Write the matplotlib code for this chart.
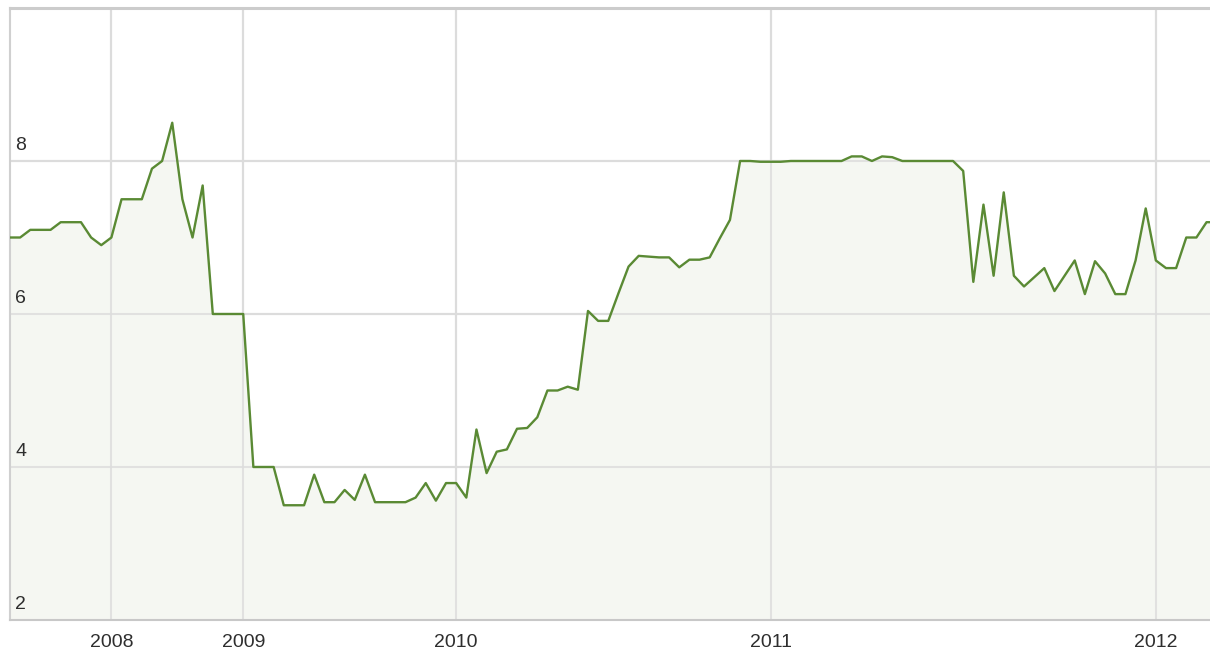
import matplotlib
matplotlib.use("Agg")
import matplotlib.pyplot as plt
import numpy as np

# ---- data ----
rates = [
    7.0, 7.0, 7.1, 7.1, 7.1, 7.2, 7.2, 7.2, 7.0, 6.9,
    7.0, 7.5, 7.5, 7.5, 7.9, 8.0, 8.5, 7.5, 7.0, 7.68,
    6.0, 6.0, 6.0, 6.0, 4.0, 4.0, 4.0, 3.5, 3.5, 3.5,
    3.9, 3.54, 3.54, 3.7, 3.57, 3.9, 3.54, 3.54, 3.54, 3.54,
    3.6, 3.79, 3.56, 3.79, 3.79, 3.6, 4.49, 3.92, 4.2, 4.23,
    4.5, 4.51, 4.65, 5.0, 5.0, 5.05, 5.01, 6.04, 5.91, 5.91,
    6.27, 6.62, 6.76, 6.75, 6.74, 6.74, 6.61, 6.71, 6.71, 6.74,
    6.99, 7.23, 8.0, 8.0, 7.99, 7.99, 7.99, 8.0, 8.0, 8.0,
    8.0, 8.0, 8.0, 8.06, 8.06, 8.0, 8.06, 8.05, 8.0, 8.0,
    8.0, 8.0, 8.0, 8.0, 7.87, 6.42, 7.43, 6.5, 7.59, 6.5,
    6.36, 6.48, 6.6, 6.3, 6.5, 6.7, 6.26, 6.69, 6.53, 6.26,
    6.26, 6.7, 7.38, 6.7, 6.6, 6.6, 7.0, 7.0, 7.2, 7.2,
]
year_labels = ["2008", "2009", "2010", "2011", "2012"]
year_index = [10, 23, 44, 75, 113]   # observation index where each year starts
y_ticks = [2, 4, 6, 8]

# ---- figure ----
W, H = 1210, 655
fig = plt.figure(figsize=(W / 100, H / 100), dpi=100)
left, right, top, bottom = 10, 1210, 8, 620
ax = fig.add_axes([left / W, (H - bottom) / H, (right - left) / W, (bottom - top) / H])

x = np.arange(len(rates))
ax.set_xlim(0, 118.34)
ax.set_ylim(2, 10)

grid_c = "#dcdcdc"
for xi in year_index:
    ax.axvline(xi, color=grid_c, lw=1.5, zorder=1)
for yv in y_ticks[1:]:
    ax.axhline(yv, color=grid_c, lw=1.5, zorder=1)

ax.fill_between(x, rates, 2, color="#f5f7f2", zorder=2, lw=0)
ax.plot(x, rates, color="#5a8a34", lw=1.7, zorder=3)

for xi in year_index:
    ax.axvline(xi, color=grid_c, lw=1.5, zorder=2.5, alpha=0.8)
for yv in y_ticks[1:]:
    ax.axhline(yv, color=grid_c, lw=1.5, zorder=2.5, alpha=0.8)

ax.spines["right"].set_visible(False)
ax.spines["left"].set_color("#d0d0d0")
ax.spines["left"].set_linewidth(1.5)
ax.spines["bottom"].set_color("#c8c8c8")
ax.spines["bottom"].set_linewidth(1.5)
ax.spines["top"].set_color("#cccccc")
ax.spines["top"].set_linewidth(2.2)

ax.set_xticks(year_index)
ax.set_xticklabels(year_labels)
ax.tick_params(axis="x", length=0, pad=10, labelsize=14, labelcolor="#2e2e2e")
ax.set_yticks([])
for lab in ax.get_xticklabels():
    lab.set_fontfamily("Liberation Sans")

for yv in y_ticks:
    ax.annotate(str(yv), xy=(0, yv), xycoords=("axes fraction", "data"),
                xytext=(5, 7), textcoords="offset pixels",
                ha="left", va="bottom", fontsize=14, color="#2e2e2e",
                family="Liberation Sans", zorder=5)

fig.savefig("out.png", dpi=100)
